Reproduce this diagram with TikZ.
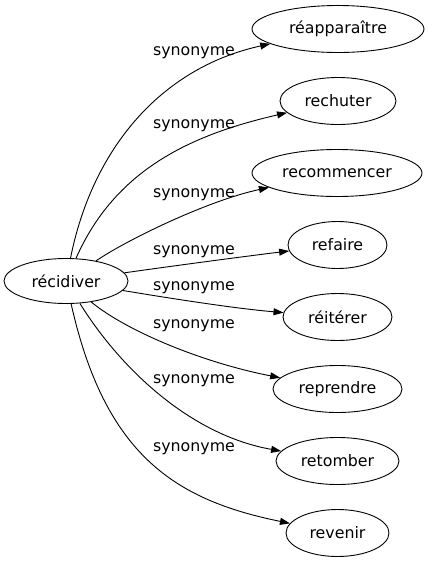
\documentclass[tikz,border=0pt]{standalone}
\usepackage{fontspec}
\setmainfont{DejaVu Sans}
\usetikzlibrary{shapes.geometric,arrows.meta}
\begin{document}
\begin{tikzpicture}[x=1pt,y=-1pt,
  word/.style={ellipse, draw, line width=0.9pt, inner sep=0pt, minimum height=47pt, font=\fontsize{15.8}{18}\selectfont},
  syn/.style={-{Triangle[length=10pt,width=7pt]}, line width=0.9pt},
  lab/.style={anchor=base, inner sep=0pt, font=\fontsize{15.8}{18}\selectfont}]
\useasboundingbox (0,0) rectangle (428,563);
\node[word, minimum width=124pt, minimum height=45pt] (r) at (66,281) {récidiver};
\node[word, minimum width=172pt] (t1) at (338,29) {réapparaître};
\node[word, minimum width=116pt] (t2) at (338,101) {rechuter};
\node[word, minimum width=170pt] (t3) at (337,173) {recommencer};
\node[word, minimum width=99pt] (t4) at (337.5,245) {refaire};
\node[word, minimum width=109pt] (t5) at (337.5,317) {réitérer};
\node[word, minimum width=129pt] (t6) at (337.5,389) {reprendre};
\node[word, minimum width=123pt] (t7) at (337.5,461) {retomber};
\node[word, minimum width=103pt] (t8) at (337.5,533) {revenir};
\node[lab] (l1) at (194,55) {synonyme};
\node[lab] (l2) at (194,128) {synonyme};
\node[lab] (l3) at (194,197) {synonyme};
\node[lab] (l4) at (194,254) {synonyme};
\node[lab] (l5) at (194,290.5) {synonyme};
\node[lab] (l6) at (194,328.5) {synonyme};
\node[lab] (l7) at (194,383) {synonyme};
\node[lab] (l8) at (194,451.5) {synonyme};
\draw[syn] (r) .. controls (92,150) and (160,68) .. (t1);
\draw[syn] (r) .. controls (115,170) and (190,135) .. (t2);
\draw[syn] (r) .. controls (130,238) and (210,200) .. (t3);
\draw[syn] (r) .. controls (180,265) and (240,257) .. (t4);
\draw[syn] (r) .. controls (180,300) and (240,309) .. (t5);
\draw[syn] (r) .. controls (125,330) and (200,362) .. (t6);
\draw[syn] (r) .. controls (120,368) and (190,435) .. (t7);
\draw[syn] (r) .. controls (105,455) and (175,500) .. (t8);
\end{tikzpicture}
\end{document}
